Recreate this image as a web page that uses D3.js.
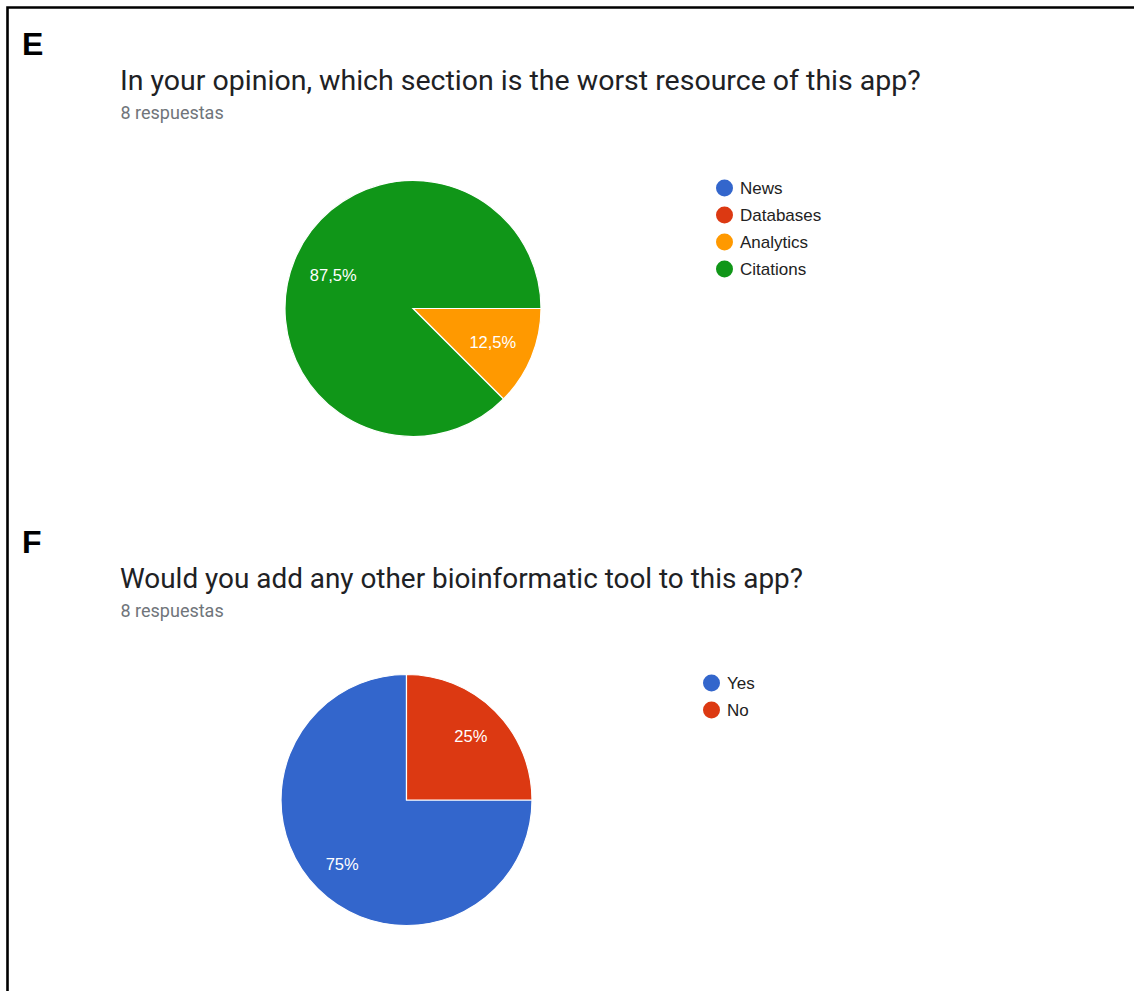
<!DOCTYPE html>
<html>
<head>
<meta charset="utf-8">
<script src="https://cdn.jsdelivr.net/npm/d3@7"></script>
<style>
  body { margin: 0; background: #fff; }
  svg { display: block; }
</style>
</head>
<body>
<svg id="chart" width="1134" height="991"></svg>
<script>
(function (d3) {
  'use strict';

  // data
  const panelLetters = ['E', 'F'];
  const titles = [
    'In your opinion, which section is the worst resource of this app?',
    'Would you add any other bioinformatic tool to this app?'
  ];
  const answerCounts = ['8 respuestas', '8 respuestas'];

  const categoriesE = ['News', 'Databases', 'Analytics', 'Citations'];
  const valuesE = [0, 0, 1, 7];

  const categoriesF = ['Yes', 'No'];
  const valuesF = [6, 2];

  const palette = ['#3366cc', '#dc3912', '#ff9900', '#109618'];

  // layout per panel
  const panels = [
    { letter: panelLetters[0], title: titles[0], count: answerCounts[0],
      categories: categoriesE, values: valuesE,
      top: 0, titleSize: 28.5, cx: 413, cy: 308.5, r: 128, labelK: 0.675,
      legendX: 724.5, legendY: 188 },
    { letter: panelLetters[1], title: titles[1], count: answerCounts[1],
      categories: categoriesF, values: valuesF,
      top: 498, titleSize: 27.9, cx: 406.5, cy: 800, r: 125.5, labelK: 0.725,
      legendX: 711.5, legendY: 683 }
  ];

  const svg = d3.select('#chart');

  // frame (top and left edges)
  svg.append('path')
    .attr('d', 'M7.5,991V7.5H1134')
    .attr('fill', 'none')
    .attr('stroke', '#000')
    .attr('stroke-width', 2.6);

  const pctFormat = (v, total) => {
    const p = Math.round(v / total * 1000) / 10;
    return String(p).replace('.', ',') + '%';
  };

  const pieChart = (selection, props) => {
    const { letter, title, count, categories, values, top, titleSize,
            cx, cy, r, labelK, legendX, legendY } = props;

    const data = categories.map((c, i) => ({ name: c, value: values[i] }));
    const total = d3.sum(values);

    const color = d3.scaleOrdinal()
      .domain(categories)
      .range(palette);

    const g = selection.append('g');

    g.append('text')
      .attr('x', 22)
      .attr('y', top + 55)
      .attr('font-family', 'Liberation Sans, Arial, sans-serif')
      .attr('font-weight', 'bold')
      .attr('font-size', 32)
      .attr('fill', '#000')
      .text(letter);

    g.append('text')
      .attr('x', 120)
      .attr('y', top + 90)
      .attr('font-family', 'Roboto, sans-serif')
      .attr('font-size', titleSize)
      .attr('fill', '#202124')
      .text(title);

    g.append('text')
      .attr('x', 120.5)
      .attr('y', top + 118.5)
      .attr('font-family', 'Roboto, sans-serif')
      .attr('font-size', 18)
      .attr('fill', '#70757a')
      .text(count);

    const pie = d3.pie()
      .sort(null)
      .value(d => d.value)
      .startAngle(Math.PI / 2)
      .endAngle(Math.PI / 2 + 2 * Math.PI);

    const arcs = pie(data).filter(d => d.data.value > 0);

    const arc = d3.arc().innerRadius(0).outerRadius(r);
    const labelArc = d3.arc().innerRadius(r * labelK).outerRadius(r * labelK);

    const pieG = g.append('g')
      .attr('transform', `translate(${cx},${cy})`);

    pieG.selectAll('path').data(arcs)
      .enter().append('path')
        .attr('d', arc)
        .attr('fill', d => color(d.data.name))
        .attr('stroke', '#fff')
        .attr('stroke-width', 1.2);

    pieG.selectAll('text').data(arcs)
      .enter().append('text')
        .attr('transform', d => `translate(${labelArc.centroid(d)})`)
        .attr('dy', '0.36em')
        .attr('text-anchor', 'middle')
        .attr('font-family', 'Liberation Sans, Arial, sans-serif')
        .attr('font-size', 16.5)
        .attr('fill', '#fff')
        .text(d => pctFormat(d.data.value, total));

    // legend
    const legendStep = 27;
    const legend = g.append('g')
      .attr('transform', `translate(${legendX},${legendY})`);

    const item = legend.selectAll('g').data(categories)
      .enter().append('g')
        .attr('transform', (d, i) => `translate(0,${i * legendStep})`);

    item.append('circle')
      .attr('r', 8.5)
      .attr('fill', d => color(d));

    item.append('text')
      .attr('x', 15.5)
      .attr('dy', '0.36em')
      .attr('font-family', 'Liberation Sans, Arial, sans-serif')
      .attr('font-size', 17)
      .attr('fill', '#222')
      .text(d => d);
  };

  panels.forEach(p => svg.call(pieChart, p));

}(d3));
</script>
</body>
</html>
